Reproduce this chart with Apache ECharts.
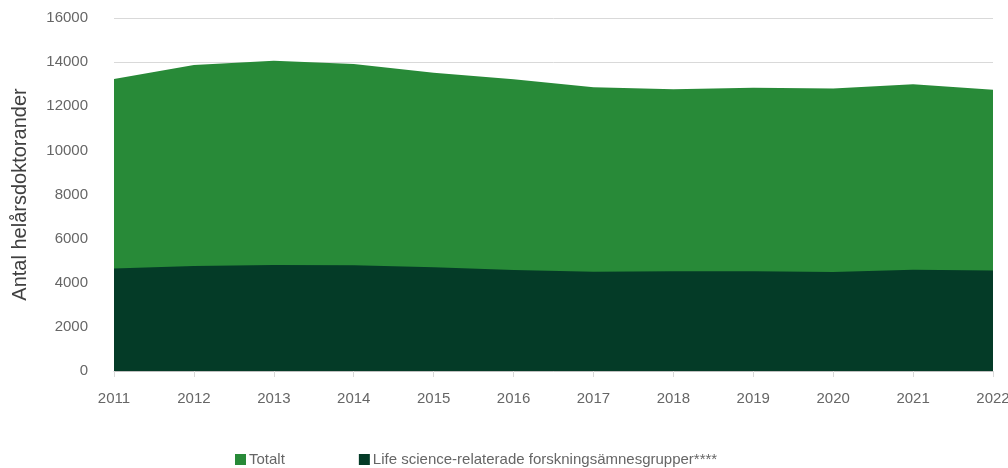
<!DOCTYPE html>
<html>
<head>
<meta charset="utf-8">
<script src="https://cdn.jsdelivr.net/npm/echarts@6/dist/echarts.min.js"></script>
<style>
  html, body { margin: 0; padding: 0; background: #fff; }
  #chart { width: 1008px; height: 468px; }
</style>
</head>
<body>
<div id="chart"></div>
<script>
// Antal helårsdoktorander per år
const years = ['2011', '2012', '2013', '2014', '2015', '2016', '2017', '2018', '2019', '2020', '2021', '2022'];
const totalt = [13240, 13870, 14060, 13910, 13520, 13220, 12860, 12770, 12840, 12810, 13000, 12750];
const lifeScience = [4650, 4760, 4805, 4790, 4700, 4580, 4500, 4520, 4520, 4490, 4590, 4550];
const seriesNames = ['Totalt', 'Life science-relaterade forskningsämnesgrupper****'];

const font = 'Liberation Sans';
const chart = echarts.init(document.getElementById('chart'));
chart.setOption({
  animation: false,
  grid: { left: 114, right: 15, top: 18, bottom: 97, containLabel: false, outerBoundsMode: 'none' },
  legend: {
    top: 447,
    left: 230,
    itemWidth: 11,
    itemHeight: 11,
    itemGap: 74,
    icon: 'rect',
    textStyle: { fontFamily: font, fontSize: 15, color: '#666666', padding: [0, 0, 0, -2] },
    data: seriesNames
  },
  xAxis: {
    type: 'category',
    data: years,
    boundaryGap: false,
    axisLine: { lineStyle: { color: '#bfbfbf' } },
    axisTick: { show: true, length: 6, lineStyle: { color: '#d9d9d9' } },
    axisLabel: { fontFamily: font, fontSize: 15, color: '#666666', margin: 20 }
  },
  yAxis: {
    type: 'value',
    min: 0,
    max: 16000,
    interval: 2000,
    name: 'Antal helårsdoktorander',
    nameLocation: 'middle',
    nameGap: 84,
    nameTextStyle: { fontFamily: font, fontSize: 20, color: '#404040' },
    axisLine: { show: false },
    axisTick: { show: false },
    splitLine: { lineStyle: { color: '#d9d9d9', width: 1 } },
    axisLabel: { fontFamily: font, fontSize: 15, color: '#666666', margin: 26, formatter: v => String(v) }
  },
  series: [
    {
      name: seriesNames[0],
      type: 'line',
      data: totalt,
      symbol: 'none',
      lineStyle: { width: 0 },
      itemStyle: { color: '#288a38' },
      areaStyle: { color: '#288a38', opacity: 1 }
    },
    {
      name: seriesNames[1],
      type: 'line',
      data: lifeScience,
      symbol: 'none',
      lineStyle: { width: 0 },
      itemStyle: { color: '#043b27' },
      areaStyle: { color: '#043b27', opacity: 1 }
    }
  ]
});
</script>
</body>
</html>
